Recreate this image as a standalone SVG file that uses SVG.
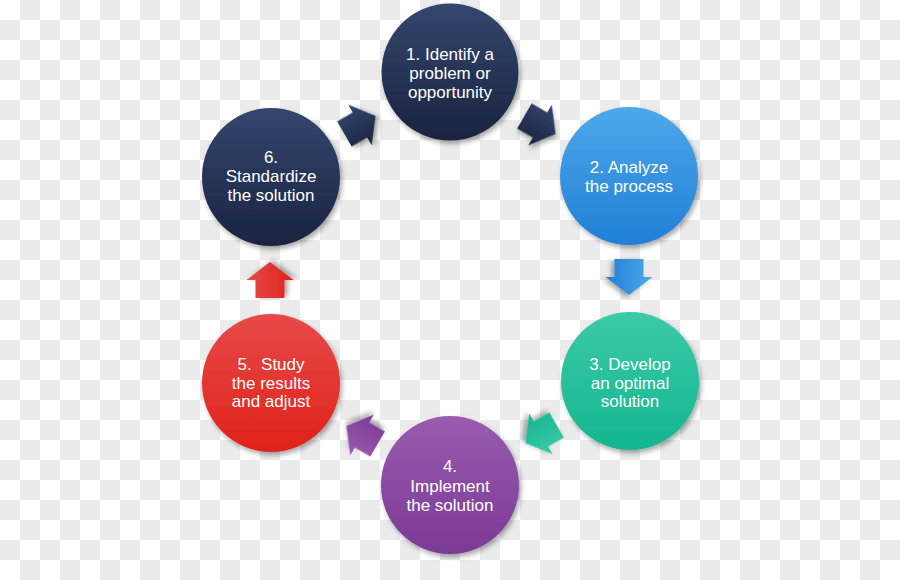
<svg xmlns="http://www.w3.org/2000/svg" width="900" height="580" viewBox="0 0 900 580">
<defs>
  <pattern id="checker" x="0" y="0" width="40" height="40" patternUnits="userSpaceOnUse">
    <rect width="40" height="40" fill="#ffffff"/>
    <rect x="20" y="0" width="20" height="20" fill="#ebebeb"/>
    <rect x="0" y="20" width="20" height="20" fill="#ebebeb"/>
  </pattern>
  <filter id="shadow" x="-20%" y="-20%" width="140%" height="140%">
    <feDropShadow dx="2" dy="3" stdDeviation="2.5" flood-color="#000" flood-opacity="0.35"/>
  </filter>
  <linearGradient id="gNavy" x1="0" y1="0" x2="0" y2="1">
    <stop offset="0" stop-color="#34466e"/>
    <stop offset="1" stop-color="#1a2340"/>
  </linearGradient>
  <linearGradient id="gBlue" x1="0" y1="0" x2="0" y2="1">
    <stop offset="0" stop-color="#4ea8ea"/>
    <stop offset="1" stop-color="#1f7fd6"/>
  </linearGradient>
  <linearGradient id="gTeal" x1="0" y1="0" x2="0" y2="1">
    <stop offset="0" stop-color="#3ccaa8"/>
    <stop offset="1" stop-color="#14b690"/>
  </linearGradient>
  <linearGradient id="gPurple" x1="0" y1="0" x2="0" y2="1">
    <stop offset="0" stop-color="#9a5cae"/>
    <stop offset="1" stop-color="#7b3996"/>
  </linearGradient>
  <linearGradient id="gRed" x1="0" y1="0" x2="0" y2="1">
    <stop offset="0" stop-color="#e64a48"/>
    <stop offset="1" stop-color="#e0221a"/>
  </linearGradient>
  <path id="arrow" d="M-18,-14.5 L0,-14.5 L0,-23.5 L18,0 L0,23.5 L0,14.5 L-18,14.5 Z"/>
</defs>
<style>
  .node circle { filter: url(#shadow); }
  .node text { font-family: "Liberation Sans", Arial, Helvetica, sans-serif; font-size: 17px; fill: #ffffff; text-anchor: middle; white-space: pre; }
  .conn use { filter: url(#shadow); }
</style>
<rect width="900" height="580" fill="url(#checker)"/>

<g id="connectors" class="conn">
  <use href="#arrow" fill="url(#gNavy)" transform="translate(360,125) rotate(-30)"/>
  <use href="#arrow" fill="url(#gNavy)" transform="translate(540,125) rotate(30)"/>
  <use href="#arrow" fill="url(#gBlue)" transform="translate(629,277) rotate(90)"/>
  <use href="#arrow" fill="url(#gTeal)" transform="translate(541,434) rotate(150)"/>
  <use href="#arrow" fill="url(#gPurple)" transform="translate(362,435) rotate(210)"/>
  <use href="#arrow" fill="url(#gRed)" transform="translate(270,280) rotate(-90)"/>
</g>

<g id="node1" class="node">
  <circle cx="450" cy="72" r="68.5" fill="url(#gNavy)"/>
  <text x="450" y="60">1. Identify a</text>
  <text x="450" y="79">problem or</text>
  <text x="450" y="98">opportunity</text>
</g>
<g id="node2" class="node">
  <circle cx="629" cy="176" r="69" fill="url(#gBlue)"/>
  <text x="629" y="173">2. Analyze</text>
  <text x="629" y="192">the process</text>
</g>
<g id="node3" class="node">
  <circle cx="630" cy="381" r="69" fill="url(#gTeal)"/>
  <text x="630" y="370">3. Develop</text>
  <text x="630" y="389">an optimal</text>
  <text x="630" y="407">solution</text>
</g>
<g id="node4" class="node">
  <circle cx="450" cy="485" r="69" fill="url(#gPurple)"/>
  <text x="450" y="472">4.</text>
  <text x="450" y="492">Implement</text>
  <text x="450" y="511">the solution</text>
</g>
<g id="node5" class="node">
  <circle cx="271" cy="383" r="69" fill="url(#gRed)"/>
  <text x="271" y="370">5.  Study</text>
  <text x="271" y="389">the results</text>
  <text x="271" y="407">and adjust</text>
</g>
<g id="node6" class="node">
  <circle cx="271" cy="177" r="69" fill="url(#gNavy)"/>
  <text x="271" y="163">6.</text>
  <text x="271" y="182">Standardize</text>
  <text x="271" y="201">the solution</text>
</g>
</svg>
